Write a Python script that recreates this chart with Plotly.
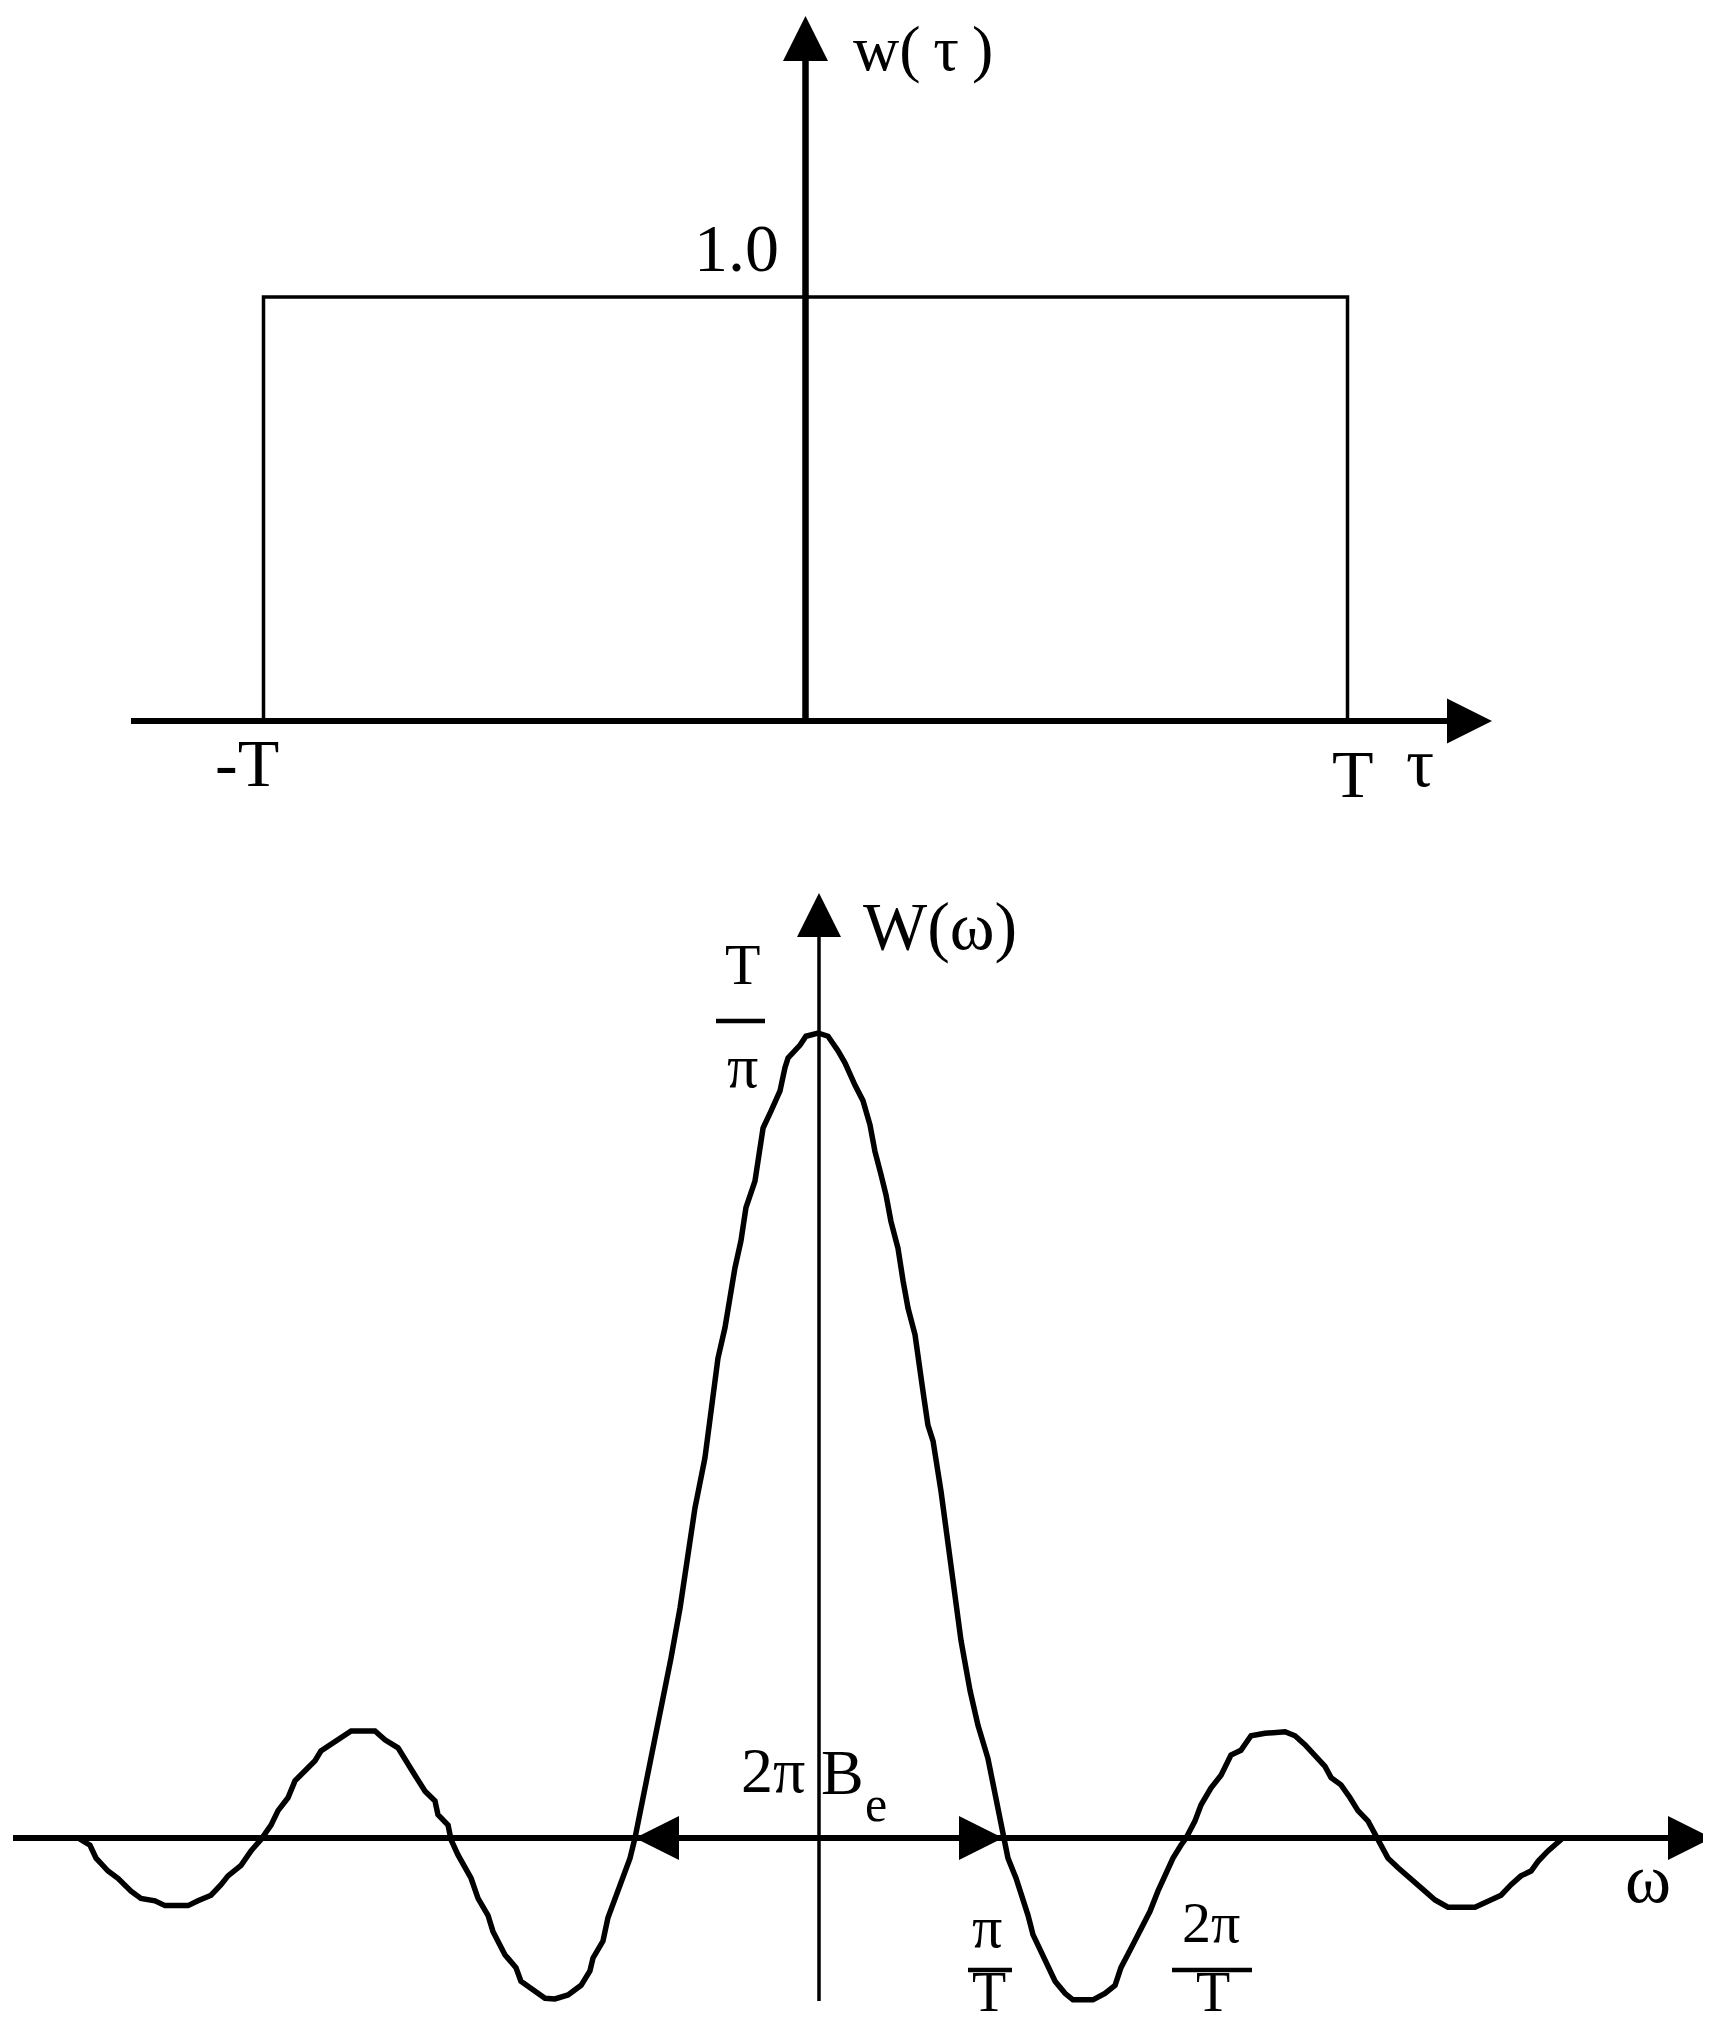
import plotly.graph_objects as go

# ---------------- data ----------------
# Top panel: rectangular lag window w(tau); tau in units of T
tau_window = [-1.0, -1.0, 1.0, 1.0]
w_window = [0.0, 1.0, 1.0, 0.0]

# Bottom panel: spectral window W(omega); omega in units of pi/T, W in units of T/pi
omega = [-4.027, -3.962, -3.929, -3.864, -3.810, -3.739, -3.685, -3.609, -3.554, -3.429,
         -3.375, -3.304, -3.250, -3.212, -3.141, -3.087, -3.033, -2.978, -2.940, -2.886,
         -2.848, -2.793, -2.739, -2.707, -2.652, -2.598, -2.543, -2.413, -2.359, -2.288,
         -2.250, -2.196, -2.141, -2.087, -2.071, -2.016, -2.000, -1.962, -1.891, -1.853,
         -1.799, -1.772, -1.707, -1.647, -1.620, -1.565, -1.489, -1.435, -1.364, -1.293,
         -1.245, -1.228, -1.174, -1.147, -1.109, -1.065, -1.027, -1.000, -0.967, -0.929,
         -0.891, -0.848, -0.804, -0.755, -0.712, -0.674, -0.620, -0.587, -0.549, -0.511,
         -0.484, -0.457, -0.424, -0.397, -0.348, -0.326, -0.304, -0.261, -0.212, -0.185,
         -0.168, -0.103, -0.071, -0.005, 0.049, 0.103, 0.141, 0.196, 0.239, 0.277,
         0.304, 0.337, 0.364, 0.391, 0.429, 0.457, 0.484, 0.522, 0.538, 0.565,
         0.592, 0.620, 0.663, 0.701, 0.739, 0.772, 0.821, 0.864, 0.918, 0.962,
         1.000, 1.027, 1.071, 1.109, 1.136, 1.163, 1.207, 1.245, 1.283, 1.337,
         1.380, 1.489, 1.554, 1.609, 1.641, 1.696, 1.745, 1.799, 1.842, 1.880,
         1.924, 1.967, 1.995, 2.043, 2.076, 2.130, 2.185, 2.239, 2.293, 2.348,
         2.424, 2.533, 2.587, 2.641, 2.696, 2.750, 2.783, 2.837, 2.886, 2.929,
         2.984, 3.022, 3.049, 3.092, 3.147, 3.217, 3.293, 3.348, 3.418, 3.565,
         3.636, 3.707, 3.761, 3.815, 3.870, 3.908, 3.962, 4.016, 4.043]
W_values = [0.000, -0.009, -0.025, -0.041, -0.050, -0.066, -0.075, -0.078, -0.084, -0.084,
            -0.078, -0.071, -0.058, -0.047, -0.034, -0.016, -0.002, 0.016, 0.034, 0.050,
            0.071, 0.083, 0.096, 0.108, 0.116, 0.124, 0.133, 0.133, 0.122, 0.112,
            0.099, 0.078, 0.058, 0.046, 0.029, 0.016, -0.002, -0.021, -0.050, -0.075,
            -0.096, -0.116, -0.145, -0.161, -0.178, -0.186, -0.199, -0.200, -0.195, -0.183,
            -0.165, -0.149, -0.128, -0.099, -0.075, -0.050, -0.025, 0.000, 0.037, 0.078,
            0.120, 0.174, 0.224, 0.286, 0.348, 0.410, 0.472, 0.534, 0.596, 0.634,
            0.671, 0.708, 0.742, 0.783, 0.816, 0.845, 0.882, 0.903, 0.928, 0.957,
            0.969, 0.985, 0.996, 1.000, 0.996, 0.978, 0.963, 0.935, 0.916, 0.886,
            0.853, 0.824, 0.799, 0.766, 0.733, 0.692, 0.658, 0.625, 0.596, 0.555,
            0.513, 0.493, 0.431, 0.369, 0.307, 0.245, 0.183, 0.140, 0.099, 0.050,
            0.000, -0.025, -0.050, -0.075, -0.096, -0.120, -0.140, -0.161, -0.178, -0.193,
            -0.201, -0.201, -0.193, -0.183, -0.161, -0.137, -0.116, -0.091, -0.066, -0.046,
            -0.025, -0.009, 0.000, 0.021, 0.041, 0.062, 0.078, 0.103, 0.109, 0.127,
            0.130, 0.132, 0.127, 0.116, 0.103, 0.089, 0.075, 0.066, 0.050, 0.034,
            0.021, 0.004, -0.009, -0.025, -0.037, -0.050, -0.066, -0.077, -0.086, -0.086,
            -0.078, -0.071, -0.058, -0.047, -0.041, -0.029, -0.016, -0.006, 0.000]

# ---------------- layout geometry (pixels of the 1711 x 2029 page) ----------------
WIDTH, HEIGHT = 1711, 2029
SPLIT = 860  # pixel row separating the two panels
TEXT_DY = -10  # compensation for annotation box vs glyph position

def tx(px): return (px - 797.5) / 542.0
def ty(py): return (713.0 - py) / 424.0
def bx(px): return (px - 811.0) / 184.0
def by(py): return (1830.0 - py) / 805.0

FONT = "Liberation Serif"
BLACK = "black"

fig = go.Figure()

# ---- top panel ----
fig.add_trace(go.Scatter(x=[tx(123), tx(1455)], y=[0, 0], mode="lines",
                         line=dict(color=BLACK, width=6), xaxis="x", yaxis="y",
                         hoverinfo="skip", cliponaxis=False))
fig.add_trace(go.Scatter(x=[0, 0], y=[0, ty(40)], mode="lines",
                         line=dict(color=BLACK, width=6.5), xaxis="x", yaxis="y",
                         hoverinfo="skip", cliponaxis=False))
fig.add_trace(go.Scatter(x=tau_window, y=w_window, mode="lines",
                         line=dict(color=BLACK, width=3.5), xaxis="x", yaxis="y",
                         cliponaxis=False))
fig.add_trace(go.Scatter(x=[tx(1484)], y=[0], mode="markers",
                         marker=dict(symbol="arrow-right", size=45, color=BLACK, line=dict(width=0)),
                         xaxis="x", yaxis="y", cliponaxis=False, hoverinfo="skip"))
fig.add_trace(go.Scatter(x=[0], y=[ty(8)], mode="markers",
                         marker=dict(symbol="arrow-up", size=45, color=BLACK, line=dict(width=0)),
                         xaxis="x", yaxis="y", cliponaxis=False, hoverinfo="skip"))

# ---- bottom panel ----
fig.add_trace(go.Scatter(x=[bx(5), bx(1680)], y=[0, 0], mode="lines",
                         line=dict(color=BLACK, width=6), xaxis="x2", yaxis="y2",
                         hoverinfo="skip", cliponaxis=False))
fig.add_trace(go.Scatter(x=[0, 0], y=[by(1993), by(915)], mode="lines",
                         line=dict(color=BLACK, width=3.5), xaxis="x2", yaxis="y2",
                         hoverinfo="skip", cliponaxis=False))
fig.add_trace(go.Scatter(x=omega, y=W_values, mode="lines",
                         line=dict(color=BLACK, width=5.5), xaxis="x2", yaxis="y2",
                         cliponaxis=False))
fig.add_trace(go.Scatter(x=[bx(1704)], y=[0], mode="markers",
                         marker=dict(symbol="arrow-right", size=44, color=BLACK, line=dict(width=0)),
                         xaxis="x2", yaxis="y2", cliponaxis=False, hoverinfo="skip"))
fig.add_trace(go.Scatter(x=[0], y=[by(885)], mode="markers",
                         marker=dict(symbol="arrow-up", size=44, color=BLACK, line=dict(width=0)),
                         xaxis="x2", yaxis="y2", cliponaxis=False, hoverinfo="skip"))
# bandwidth arrows (2*pi*B_e spans -pi/T .. pi/T)
fig.add_trace(go.Scatter(x=[-1.0], y=[0], mode="markers",
                         marker=dict(symbol="arrow-left", size=44, color=BLACK, line=dict(width=0)),
                         xaxis="x2", yaxis="y2", cliponaxis=False, hoverinfo="skip"))
fig.add_trace(go.Scatter(x=[1.0], y=[0], mode="markers",
                         marker=dict(symbol="arrow-right", size=44, color=BLACK, line=dict(width=0)),
                         xaxis="x2", yaxis="y2", cliponaxis=False, hoverinfo="skip"))

annotations = []
def txt(text, px, py, size, panel):
    py = py + TEXT_DY
    if panel == 1:
        xv, yv, xr, yr = tx(px), ty(py), "x", "y"
    else:
        xv, yv, xr, yr = bx(px), by(py), "x2", "y2"
    annotations.append(dict(text=text, x=xv, y=yv, xref=xr, yref=yr, showarrow=False,
                            xanchor="center", yanchor="middle",
                            font=dict(family=FONT, size=size, color=BLACK)))

# top labels
txt("w(\u2009τ\u2009)", 915, 50, 64, 1)
txt("1.0", 728, 250, 68, 1)
txt("-T", 239, 765, 68, 1)
txt("T", 1345, 776, 68, 1)
txt("τ", 1412, 764, 70, 1)

# bottom labels
txt("W(ω)", 932, 928, 68, 2)
txt("T", 734, 966, 58, 2)
txt("π", 734, 1068, 62, 2)
txt("2π", 765, 1772, 64, 2)
txt("B", 834, 1774, 64, 2)
txt("e", 868, 1806, 50, 2)
txt("ω", 1640, 1880, 70, 2)
txt("π", 979, 1929, 60, 2)
txt("T", 981, 1994, 56, 2)
txt("2π", 1203, 1924, 58, 2)
txt("T", 1205, 1994, 56, 2)

shapes = []
def bar(x0, x1, py, w):
    shapes.append(dict(type="line", xref="x2", yref="y2", x0=bx(x0), x1=bx(x1),
                       y0=by(py), y1=by(py), line=dict(color=BLACK, width=w)))
bar(708, 757, 1013, 4.5)
bar(960, 1004, 1962, 4.5)
bar(1164, 1244, 1962, 4.5)

fig.update_layout(
    width=WIDTH, height=HEIGHT,
    margin=dict(l=0, r=0, t=0, b=0),
    paper_bgcolor="white", plot_bgcolor="white",
    showlegend=False,
    annotations=annotations, shapes=shapes,
    xaxis=dict(domain=[0, 1], range=[tx(0), tx(WIDTH)], visible=False, anchor="y"),
    yaxis=dict(domain=[1 - SPLIT / HEIGHT, 1], range=[ty(SPLIT), ty(0)], visible=False, anchor="x"),
    xaxis2=dict(domain=[0, 1], range=[bx(0), bx(WIDTH)], visible=False, anchor="y2"),
    yaxis2=dict(domain=[0, 1 - SPLIT / HEIGHT], range=[by(HEIGHT), by(SPLIT)], visible=False, anchor="x2"),
)

fig.write_html("out.html")
